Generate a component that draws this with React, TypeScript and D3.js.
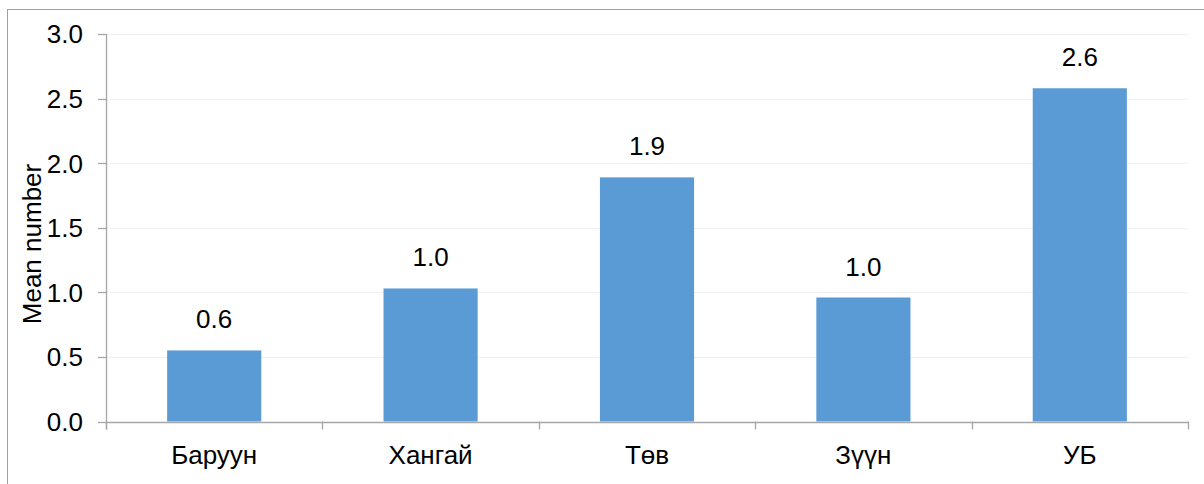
import React from "react";
import * as d3 from "d3";

const categories = ["Баруун", "Хангай", "Төв", "Зүүн", "УБ"];
const values = [0.55, 1.03, 1.89, 0.96, 2.58];
const valueLabels = ["0.6", "1.0", "1.9", "1.0", "2.6"];
const yTicks = [0, 0.5, 1.0, 1.5, 2.0, 2.5, 3.0];
const yTitle = "Mean number";

const W = 1204;
const H = 484;
const M = { left: 106, right: 1188, top: 34, bottom: 421.5 };
const FONT = "'Liberation Sans', Arial, sans-serif";

export default function App() {
  const x = d3
    .scaleBand<string>()
    .domain(categories)
    .range([M.left, M.right])
    .paddingInner(0.565)
    .paddingOuter(0.2825);
  const xOuter = d3.scaleBand<string>().domain(categories).range([M.left, M.right]);
  const y = d3.scaleLinear().domain([0, 3]).range([M.bottom, M.top]);
  const axisColor = "#a6a6a6";
  const boundaries = [M.left, ...categories.map((c) => (xOuter(c) as number) + xOuter.bandwidth())];

  return (
    <svg
      width={W}
      height={H}
      style={{ position: "absolute", left: 0, top: 0, background: "#fff" }}
      fontFamily={FONT}
    >
      <rect x={7.5} y={9.5} width={1400} height={800} fill="#fff" stroke="#a0a0a0" strokeWidth={1} />
      {yTicks.filter((t) => t > 0).map((t) => (
        <line key={"g" + t} x1={M.left} x2={M.right} y1={Math.round(y(t)) + 0.5} y2={Math.round(y(t)) + 0.5} stroke="#f0f0f0" strokeWidth={1.2} />
      ))}
      {categories.map((c, i) => (
        <rect key={c} x={x(c)} y={y(values[i])} width={x.bandwidth()} height={y(0) - y(values[i])} fill="#5b9bd5" />
      ))}
      {/* y axis */}
      <line x1={M.left + 0.5} x2={M.left + 0.5} y1={M.top} y2={M.bottom + 8} stroke={axisColor} strokeWidth={1.3} />
      {yTicks.map((t) => (
        <g key={"t" + t}>
          <line x1={M.left - 8} x2={M.left} y1={Math.round(y(t)) + 0.5} y2={Math.round(y(t)) + 0.5} stroke={axisColor} strokeWidth={1.3} />
          <text x={83} y={y(t)} dy="0.36em" textAnchor="end" fontSize={26} fill="#000">
            {t.toFixed(1)}
          </text>
        </g>
      ))}
      {/* x axis */}
      <line x1={M.left} x2={M.right} y1={Math.round(M.bottom) + 0.5} y2={Math.round(M.bottom) + 0.5} stroke={axisColor} strokeWidth={1.3} />
      {boundaries.map((b, i) => (
        <line key={"xb" + i} x1={Math.round(b) + 0.5} x2={Math.round(b) + 0.5} y1={M.bottom} y2={M.bottom + 8} stroke={axisColor} strokeWidth={1.3} />
      ))}
      {categories.map((c) => (
        <text key={"l" + c} x={(x(c) as number) + x.bandwidth() / 2} y={464} textAnchor="middle" fontSize={26} fill="#000">
          {c}
        </text>
      ))}
      {categories.map((c, i) => (
        <text key={"v" + c} x={(x(c) as number) + x.bandwidth() / 2} y={y(values[i]) - 22} textAnchor="middle" fontSize={26} fill="#000">
          {valueLabels[i]}
        </text>
      ))}
      <text transform={`translate(41, 244) rotate(-90)`} textAnchor="middle" fontSize={26} fill="#000">
        {yTitle}
      </text>
    </svg>
  );
}
